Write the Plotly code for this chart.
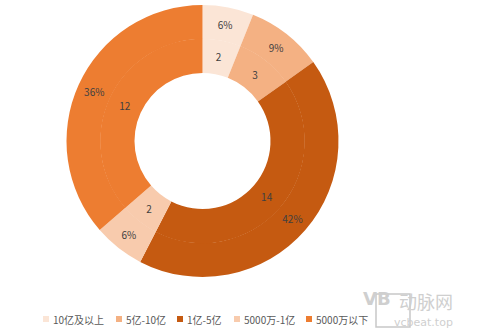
import plotly.graph_objects as go

labels = ["10亿及以上", "5亿-10亿", "1亿-5亿", "5000万-1亿", "5000万以下"]
counts = [2, 3, 14, 2, 12]
colors = ["#FBE5D6", "#F4B183", "#C55A11", "#F8CBAD", "#ED7D31"]

W, H = 498, 332
cx, cy = 202.5, 141.0
r_out, r_mid, r_in = 136.0, 102.0, 68.0

def dom(r):
    return dict(x=[(cx - r) / W, (cx + r) / W], y=[(H - cy - r) / H, (H - cy + r) / H])

font_txt = dict(family="Noto Sans CJK SC, Noto Sans, sans-serif", size=10, color="#404040")
line = dict(color="rgba(255,255,255,0)", width=0)

fig = go.Figure()
fig.add_trace(go.Pie(
    labels=labels, values=counts, sort=False, direction="clockwise", rotation=0,
    hole=r_mid / r_out, domain=dom(r_out),
    marker=dict(colors=colors, line=line),
    texttemplate="%{percent:.0%}", textposition="inside", insidetextorientation="horizontal",
    textfont=font_txt, hoverinfo="label+value+percent", showlegend=False,
))
fig.add_trace(go.Pie(
    labels=labels, values=counts, sort=False, direction="clockwise", rotation=0,
    hole=r_in / (r_mid + 0.3), domain=dom(r_mid + 0.3),
    marker=dict(colors=colors, line=line),
    texttemplate="%{value}", textposition="inside", insidetextorientation="horizontal",
    textfont=font_txt, hoverinfo="label+value+percent", showlegend=False,
))

# legend (compact, like the reference)
legend_x = [43, 116, 177, 234, 306]
ly = 319
for lab, col, x in zip(labels, colors, legend_x):
    fig.add_shape(type="rect", xref="paper", yref="paper",
                  x0=x / W, x1=(x + 6) / W, y0=(H - ly - 3) / H, y1=(H - ly + 3) / H,
                  line=dict(width=0), fillcolor=col)
    fig.add_annotation(x=(x + 7.5) / W, y=(H - ly) / H, xref="paper", yref="paper", text=lab,
                       xanchor="left", yanchor="middle", showarrow=False,
                       font=dict(family="Noto Sans CJK SC, sans-serif", size=10, color="#595959"))

# watermark
fig.add_shape(type="rect", xref="paper", yref="paper",
              x0=376 / W, x1=410 / W, y0=(H - 327) / H, y1=(H - 294) / H,
              line=dict(color="#C8C8C8", width=1.5), fillcolor="rgba(0,0,0,0)")
fig.add_annotation(x=393 / W, y=(H - 310.5) / H, xref="paper", yref="paper", text="<b>VB</b>",
                   showarrow=False, font=dict(family="DejaVu Sans", size=18, color="#CFCFCF"))
fig.add_annotation(x=454 / W, y=(H - 301) / H, xref="paper", yref="paper", text="动脉网",
                   yanchor="middle", showarrow=False, borderpad=0,
                   font=dict(family="Noto Sans CJK SC", size=18, color="#CFCFCF"))
fig.add_annotation(x=454 / W, y=(H - 322) / H, xref="paper", yref="paper", text="vcbeat.top",
                   yanchor="middle", showarrow=False, borderpad=0,
                   font=dict(family="DejaVu Sans", size=11, color="#CFCFCF"))

fig.update_layout(
    width=W, height=H, margin=dict(l=0, r=0, t=0, b=0),
    paper_bgcolor="white", plot_bgcolor="white", showlegend=False,
)
fig.write_html("out.html")
